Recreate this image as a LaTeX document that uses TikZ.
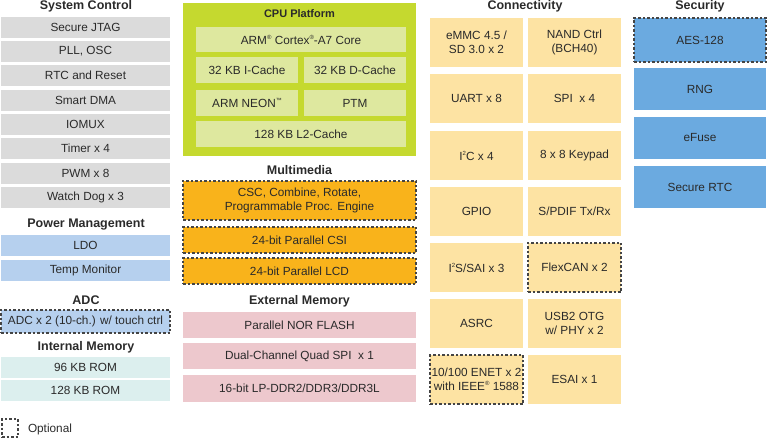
\documentclass[tikz,border=0pt]{standalone}
\usepackage{fontspec}
\setmainfont{Liberation Sans}
\definecolor{scgray}{HTML}{DBDBDB}
\definecolor{pmblue}{HTML}{B6D0EE}
\definecolor{imteal}{HTML}{DCEFEE}
\definecolor{cpugreen}{HTML}{C5D92F}
\definecolor{cpuinner}{HTML}{DEE89F}
\definecolor{mmorange}{HTML}{F9B31B}
\definecolor{empink}{HTML}{EDC8CD}
\definecolor{cnyellow}{HTML}{FDE3A3}
\definecolor{secblue}{HTML}{6BAAE0}
\definecolor{txt}{HTML}{2A2A2A}
\definecolor{dash}{HTML}{444444}
\newcommand\mkbox[7]{\node[base,#6,minimum width={#4-#2},minimum height={#5-#3}] (#1) at (#2,#3) {#7};}
\newcommand\supsm[1]{\raisebox{0.42em}{\fontsize{6}{6}\selectfont #1}}
\tikzset{
  base/.style={inner sep=0pt,outer sep=0pt,anchor=north west,align=center,text=txt,
    font=\fontsize{11.8}{14.2}\selectfont},
  ttl/.style={text=txt,font=\fontsize{12.5}{14}\selectfont\bfseries,inner sep=0pt},
  optline/.style={draw=dash,line width=1.1pt,dash pattern=on 2.5pt off 2pt},
  sc/.style={fill=scgray},
  pm/.style={fill=pmblue},
  im/.style={fill=imteal},
  cpuo/.style={fill=cpugreen},
  cpui/.style={fill=cpuinner},
  mm/.style={fill=mmorange,optline},
  em/.style={fill=empink},
  cn/.style={fill=cnyellow},
  cno/.style={fill=cnyellow,optline},
  sec/.style={fill=secblue},
  seco/.style={fill=secblue,optline},
}
\begin{document}
\begin{tikzpicture}[x=1pt,y=-1pt]
\useasboundingbox (0,0) rectangle (768,438);
% System Control
\node[ttl] (tsc) at (86,6) {System Control};
\mkbox{jtag}{1}{17}{170}{38}{sc}{Secure JTAG}
\mkbox{pll}{1}{41}{170}{62}{sc}{PLL, OSC}
\mkbox{rtc}{1}{65}{170}{86}{sc}{RTC and Reset}
\mkbox{dma}{1}{90}{170}{111}{sc}{Smart DMA}
\mkbox{iomux}{1}{114}{170}{135}{sc}{IOMUX}
\mkbox{timer}{1}{138}{170}{159}{sc}{Timer x 4}
\mkbox{pwm}{1}{163}{170}{184}{sc}{PWM x 8}
\mkbox{wdog}{1}{187}{170}{208}{sc}{Watch Dog x 3}
% Power Management
\node[ttl] (tpm) at (86,225) {Power Management};
\mkbox{ldo}{1}{235}{170}{256}{pm}{LDO}
\mkbox{temp}{1}{260}{170}{281}{pm}{Temp Monitor}
% ADC
\node[ttl] (tadc) at (86,300) {ADC};
\mkbox{adc}{1}{310}{170}{333}{pm,optline}{ADC x 2 (10-ch.) w/ touch ctrl}
% Internal Memory
\node[ttl] (tim) at (86,347) {Internal Memory};
\mkbox{rom96}{1}{357}{170}{378}{im}{96 KB ROM}
\mkbox{rom128}{1}{380}{170}{401}{im}{128 KB ROM}
% Optional legend
\node[base,optline,minimum width=16,minimum height=18] (leg) at (2,419) {};
\node[base,anchor=west] (legt) at (28,429) {Optional};
% CPU Platform
\mkbox{cpu}{183}{3}{416}{156}{cpuo}{}
\node[ttl,font=\fontsize{11}{13}\selectfont\bfseries] (tcpu) at (299.5,14) {CPU Platform};
\mkbox{core}{196}{27}{406}{52}{cpui}{ARM\supsm{®} Cortex\supsm{®}-A7 Core}
\mkbox{icache}{196}{57}{298}{83}{cpui}{32 KB I-Cache}
\mkbox{dcache}{304}{57}{406}{83}{cpui}{32 KB D-Cache}
\mkbox{neon}{196}{90}{298}{116}{cpui}{ARM NEON\supsm{™}}
\mkbox{ptm}{304}{90}{406}{116}{cpui}{PTM}
\mkbox{l2}{196}{121}{406}{147}{cpui}{128 KB L2-Cache}
% Multimedia
\node[ttl] (tmm) at (299.5,170) {Multimedia};
\mkbox{csc}{183}{181}{416}{220}{mm}{CSC, Combine, Rotate,\\Programmable Proc. Engine}
\mkbox{csi}{183}{227}{416}{253}{mm}{24-bit Parallel CSI}
\mkbox{lcd}{183}{258}{416}{284}{mm}{24-bit Parallel LCD}
% External Memory
\node[ttl] (tem) at (299.5,301) {External Memory};
\mkbox{nor}{183}{312}{416}{338}{em}{Parallel NOR FLASH}
\mkbox{qspi}{183}{343}{416}{369}{em}{Dual-Channel Quad SPI\ \ x 1}
\mkbox{ddr}{183}{375}{416}{402}{em}{16-bit LP-DDR2/DDR3/DDR3L}
% Connectivity
\node[ttl] (tcn) at (525,6) {Connectivity};
\mkbox{emmc}{430}{18}{523}{67}{cn}{eMMC 4.5 /\\SD 3.0 x 2}
\mkbox{nand}{528}{18}{621}{67}{cn}{NAND Ctrl\\(BCH40)}
\mkbox{uart}{430}{74}{523}{123}{cn}{UART x 8}
\mkbox{spi}{528}{74}{621}{123}{cn}{SPI\ \ x 4}
\mkbox{i2c}{430}{131}{523}{180}{cn}{I\supsm{2}C x 4}
\mkbox{keypad}{528}{131}{621}{180}{cn}{8 x 8 Keypad}
\mkbox{gpio}{430}{187}{523}{236}{cn}{GPIO}
\mkbox{spdif}{528}{187}{621}{236}{cn}{S/PDIF Tx/Rx}
\mkbox{i2s}{430}{243}{523}{292}{cn}{I\supsm{2}S/SAI x 3}
\mkbox{flexcan}{528}{243}{621}{292}{cno}{FlexCAN x 2}
\mkbox{asrc}{430}{299}{523}{348}{cn}{ASRC}
\mkbox{usb}{528}{299}{621}{348}{cn}{USB2 OTG\\w/ PHY x 2}
\mkbox{enet}{430}{355}{523}{404}{cno}{10/100 ENET x 2\\with IEEE\supsm{®} 1588}
\mkbox{esai}{528}{355}{621}{404}{cn}{ESAI x 1}
% Security
\node[ttl] (tsec) at (700,6) {Security};
\mkbox{aes}{634}{18}{766}{62}{seco}{AES-128}
\mkbox{rng}{634}{68}{766}{110}{sec}{RNG}
\mkbox{efuse}{634}{117}{766}{159}{sec}{eFuse}
\mkbox{srtc}{634}{166}{766}{208}{sec}{Secure RTC}
\end{tikzpicture}
\end{document}
